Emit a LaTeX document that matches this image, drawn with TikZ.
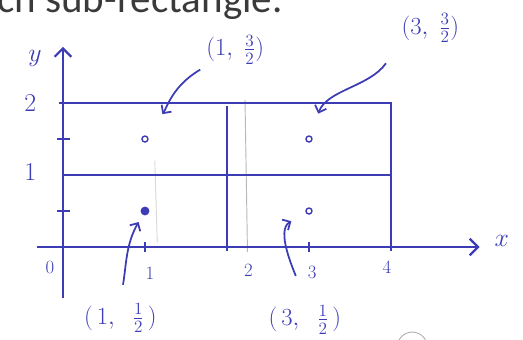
\RequirePackage{fix-cm}
\documentclass[tikz,border=0pt]{standalone}
\usepackage{amsmath}
\usepackage{fontspec}
\newfontfamily\slidefont{Carlito}
\usepackage{tikz}
\usetikzlibrary{
  arrows.meta,
  positioning
}
\definecolor{ink}      {HTML}{3C3CB4}
\definecolor{slidegray}{HTML}{3A3A3A}

\begin{document}
\begin{tikzpicture}[
  x=2.46cm, y=2.16cm,
  every node/.style={text=ink},
  inkline/.style={draw=ink, line width=1.9pt},
  axis/.style={inkline, -{Straight Barb[length=2.5mm,width=5mm]}},
  tickmark/.style={inkline, line width=1.4pt},
  pencil/.style={draw=gray!55, line width=0.8pt},
  opendot/.style={circle, draw=ink, line width=1.2pt, inner sep=0pt, minimum size=0.18cm},
  fulldot/.style={opendot, fill=ink, minimum size=0.22cm},
  ticklbl/.style={font=\fontsize{16}{19}\selectfont},
  axislbl/.style={font=\fontsize{22}{26}\selectfont},
  coordlbl/.style={font=\fontsize{21}{24}\selectfont},
  arr/.style={draw=ink, line width=1.5pt, -{Straight Barb[length=1.8mm,width=3.6mm]}},
  hdr/.style={font=\slidefont\fontsize{35}{40}\selectfont, text=slidegray, inner sep=0pt}
]

% Frame
\useasboundingbox (-0.768,-1.278) rectangle (5.610,3.431);
\clip (-0.768,-1.278) rectangle (5.610,3.431);

% Slide text (cut off at the top)
\node[hdr, anchor=base east] (hdr) at (2.68,3.26) {ch sub-rectangle.};

% Pencil guide lines
\draw[pencil] (2.22,2.04) -- (2.25,-0.07);
\draw[pencil, draw=gray!30] (1.12,1.2) -- (1.15,0.05);

% Axes
\draw[axis] (-0.32,0) -- (5.08,0);
\draw[axis] (0,-0.71) -- (0,2.78);
\node[axislbl] (xlbl) at (5.35,0.08) {$x$};
\node[axislbl] (ylbl) at (-0.34,2.62) {$y$};

% Sub-rectangles
\draw[inkline] (-0.05,2) -- (4,2) -- (4,-0.05);
\draw[inkline] (0,1) -- (4,1);
\draw[inkline] (2,1.96) -- (2,-0.05);

% Ticks
\foreach \t in {1,3} \draw[tickmark] (\t,0.07) -- (\t,-0.07);
\foreach \t in {0.5,1.5} \draw[tickmark] (-0.07,\t) -- (0.08,\t);

\node[ticklbl] (x0) at (-0.16,-0.28) {0};
\node[ticklbl] (x1) at (1.06,-0.36) {1};
\node[ticklbl] (x2) at (2.26,-0.32) {2};
\node[ticklbl] (x3) at (3.04,-0.35) {3};
\node[ticklbl] (x4) at (3.95,-0.28) {4};
\node[axislbl] (y1) at (-0.40,1.04) {1};
\node[axislbl] (y2) at (-0.40,2.0) {2};

% Midpoints
\node[opendot] (p13) at (1,1.5) {};
\node[fulldot] (p11) at (1,0.5) {};
\node[opendot] (p33) at (3,1.5) {};
\node[opendot] (p31) at (3,0.5) {};

% Labels
\node[coordlbl] (l13) at (2.10,2.74) {$(1,\;\tfrac{3}{2})$};
\node[coordlbl] (l33) at (4.48,3.04) {$(3,\;\tfrac{3}{2})$};
\node[coordlbl] (l11) at (0.70,-0.99) {$(\,1,\;\;\tfrac{1}{2}\,)$};
\node[coordlbl] (l31) at (2.95,-1.01) {$(\,3,\;\;\tfrac{1}{2}\,)$};

% Arrows
\draw[arr, shorten <=2pt, shorten >=0.8cm] (l13.south west) to[out=-150, in=55] (p13);
\draw[arr, shorten <=0.6cm, shorten >=0.7cm] (l33.south west) to[out=-125, in=70] (p33);
\draw[arr, shorten <=0.45cm, shorten >=0.25cm] (l11.north) to[out=80, in=-120] (p11);
\draw[arr, shorten <=0.8cm, shorten >=0.5cm] (l31.north) to[out=110, in=-150] (p31);

% Stray mark at the bottom edge
\draw[draw=gray!60, line width=0.8pt] (4.26,-1.39) circle (0.45cm);

\end{tikzpicture}
\end{document}
